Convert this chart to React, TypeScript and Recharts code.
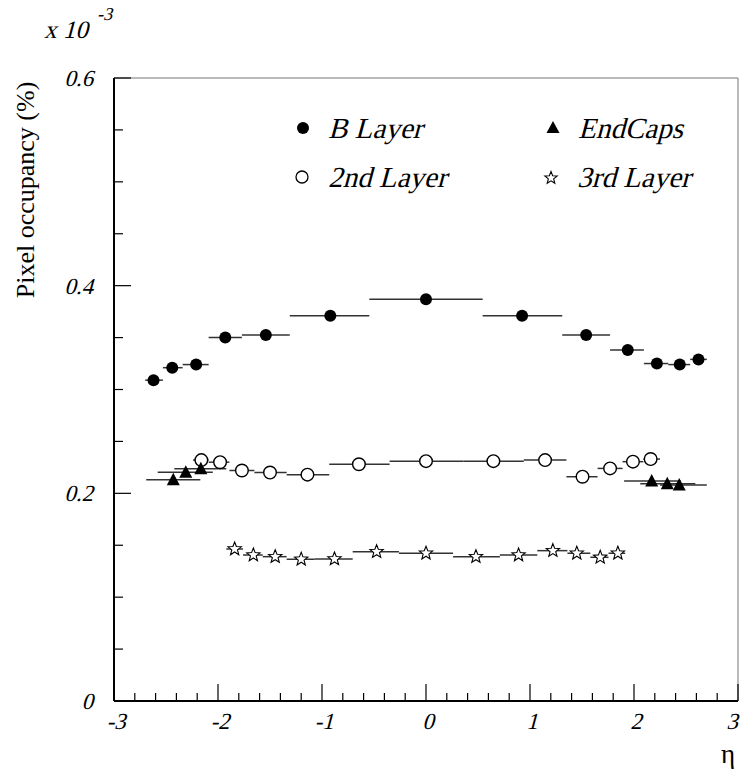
import React from "react";
import { ScatterChart, Scatter, XAxis, YAxis, ErrorBar, ReferenceLine } from "recharts";

// pseudorapidity bin centres, occupancy (x 10^-3 %) and bin edges
const bLayerEta = [-2.62, -2.44, -2.21, -1.93, -1.54, -0.92, 0, 0.924, 1.54, 1.94, 2.22, 2.44, 2.62];
const bLayerOcc = [0.309, 0.321, 0.324, 0.35, 0.3525, 0.371, 0.387, 0.371, 0.3525, 0.338, 0.325, 0.324, 0.329];
const bLayerLo = [-2.7, -2.53, -2.34, -2.09, -1.77, -1.31, -0.545, 0.545, 1.31, 1.77, 2.095, 2.33, 2.54];
const bLayerHi = [-2.53, -2.34, -2.09, -1.77, -1.31, -0.545, 0.545, 1.31, 1.77, 2.095, 2.33, 2.54, 2.7];

const layer2Eta = [-2.16, -1.98, -1.77, -1.5, -1.14, -0.645, 0, 0.648, 1.145, 1.505, 1.77, 1.99, 2.16];
const layer2Occ = [0.232, 0.23, 0.222, 0.22, 0.218, 0.228, 0.231, 0.231, 0.232, 0.216, 0.224, 0.2305, 0.233];
const layer2Lo = [-2.24, -2.09, -1.89, -1.65, -1.34, -0.93, -0.35, 0.36, 0.94, 1.35, 1.65, 1.89, 2.09];
const layer2Hi = [-2.09, -1.89, -1.65, -1.34, -0.93, -0.35, 0.36, 0.94, 1.35, 1.65, 1.89, 2.09, 2.25];

const endCapEta = [-2.43, -2.31, -2.165, 2.17, 2.32, 2.435];
const endCapOcc = [0.213, 0.2203, 0.2237, 0.2119, 0.2093, 0.208];
const endCapLo = [-2.69, -2.58, -2.42, 1.905, 2.06, 2.25];
const endCapHi = [-2.17, -2.05, -1.92, 2.45, 2.59, 2.7];

const layer3Eta = [-1.84, -1.66, -1.45, -1.2, -0.88, -0.475, 0, 0.48, 0.89, 1.22, 1.45, 1.675, 1.845];
const layer3Occ = [0.1464, 0.1406, 0.139, 0.1365, 0.1368, 0.1438, 0.1423, 0.139, 0.1406, 0.1448, 0.1423, 0.1384, 0.1423];
const layer3Lo = [-1.92, -1.76, -1.57, -1.34, -1.07, -0.705, -0.26, 0.26, 0.71, 1.07, 1.36, 1.58, 1.755];
const layer3Hi = [-1.76, -1.57, -1.34, -1.07, -0.705, -0.26, 0.26, 0.71, 1.07, 1.36, 1.58, 1.755, 1.915];

const xTicks = [
  -3, -2.8, -2.6, -2.4, -2.2, -2, -1.8, -1.6, -1.4, -1.2, -1, -0.8, -0.6, -0.4, -0.2, 0,
  0.2, 0.4, 0.6, 0.8, 1, 1.2, 1.4, 1.6, 1.8, 2, 2.2, 2.4, 2.6, 2.8, 3,
];
const yTicks = [0, 0.05, 0.1, 0.15, 0.2, 0.25, 0.3, 0.35, 0.4, 0.45, 0.5, 0.55, 0.6];

const FONT = "Liberation Serif";

const rows = (eta: number[], occ: number[], lo: number[], hi: number[]) =>
  eta.map((x, i) => ({ x, y: occ[i], err: [x - lo[i], hi[i] - x] }));

const near = (v: number, step: number) => Math.abs(v / step - Math.round(v / step)) < 1e-6;

// slanted serif text (the italic face isn't reliably installed)
const Ital = ({ x, y, size, anchor = "start", children }: any) => (
  <text
    transform={`translate(${x},${y}) skewX(-15)`}
    textAnchor={anchor}
    fontFamily={FONT}
    fontSize={size}
    fill="#000"
  >
    {children}
  </text>
);

const XTick = (props: any) => {
  const { x, y, payload } = props;
  const v = payload.value;
  const major = near(v, 1);
  // keep the last label inside the page
  const lx = Math.min(x + 2, 732);
  return (
    <g>
      <line x1={x} x2={x} y1={y} y2={y - (major ? 17 : 8)} stroke="#000" strokeWidth={1.2} />
      {major && (
        <Ital x={lx} y={y + 28} size={23} anchor="middle">
          {String(v)}
        </Ital>
      )}
    </g>
  );
};

const YTick = (props: any) => {
  const { x, y, payload } = props;
  const v = payload.value;
  const major = near(v, 0.2);
  return (
    <g>
      <line x1={x} x2={x + (major ? 17 : 9)} y1={y} y2={y} stroke="#000" strokeWidth={1.2} />
      {major && (
        <Ital x={x - 21} y={y + 8} size={23} anchor="end">
          {String(v)}
        </Ital>
      )}
    </g>
  );
};

const FilledDot = ({ cx, cy }: any) => <circle cx={cx} cy={cy} r={6} fill="#000" />;
const OpenDot = ({ cx, cy }: any) => <circle cx={cx} cy={cy} r={6.3} fill="#fff" stroke="#000" strokeWidth={1.4} />;
const Triangle = ({ cx, cy }: any) => (
  <path d={`M${cx},${cy - 7} L${cx + 6.5},${cy + 5.5} L${cx - 6.5},${cy + 5.5} Z`} fill="#000" />
);
const starPath = (cx: number, cy: number, ro: number, ri: number) => {
  const pts: string[] = [];
  for (let k = 0; k < 10; k++) {
    const r = k % 2 === 0 ? ro : ri;
    const a = -Math.PI / 2 + (k * Math.PI) / 5;
    pts.push(`${(cx + r * Math.cos(a)).toFixed(2)},${(cy + r * Math.sin(a)).toFixed(2)}`);
  }
  return "M" + pts.join(" L") + " Z";
};
const Star = ({ cx, cy }: any) => <path d={starPath(cx, cy, 7, 3)} fill="#fff" stroke="#000" strokeWidth={1.1} />;

const bar = { dataKey: "err", direction: "x" as const, width: 0, stroke: "#333", strokeWidth: 1.5, isAnimationActive: false };

export default function App() {
  return (
    <div style={{ position: "absolute", left: 0, top: 0, width: 745, height: 774, background: "#fff" }}>
      <ScatterChart width={745} height={774} margin={{ top: 78, right: 7, bottom: 72, left: 113 }}>
        <XAxis
          type="number"
          dataKey="x"
          domain={[-3, 3]}
          allowDataOverflow
          ticks={xTicks}
          interval={0}
          height={1}
          tickSize={0}
          tickMargin={0}
          tickLine={false}
          tick={<XTick />}
          axisLine={{ stroke: "#000", strokeWidth: 2 }}
        />
        <YAxis
          type="number"
          dataKey="y"
          domain={[0, 0.6]}
          allowDataOverflow
          ticks={yTicks}
          interval={0}
          width={1}
          tickSize={0}
          tickMargin={0}
          tickLine={false}
          tick={<YTick />}
          axisLine={{ stroke: "#000", strokeWidth: 2 }}
        />
        <ReferenceLine y={0.6} stroke="#777" strokeWidth={1} />
        <ReferenceLine x={3} stroke="#777" strokeWidth={1} />
        <Scatter data={rows(bLayerEta, bLayerOcc, bLayerLo, bLayerHi)} shape={<FilledDot />} isAnimationActive={false}>
          <ErrorBar {...bar} />
        </Scatter>
        <Scatter data={rows(layer2Eta, layer2Occ, layer2Lo, layer2Hi)} shape={<OpenDot />} isAnimationActive={false}>
          <ErrorBar {...bar} />
        </Scatter>
        <Scatter data={rows(endCapEta, endCapOcc, endCapLo, endCapHi)} shape={<Triangle />} isAnimationActive={false}>
          <ErrorBar {...bar} />
        </Scatter>
        <Scatter data={rows(layer3Eta, layer3Occ, layer3Lo, layer3Hi)} shape={<Star />} isAnimationActive={false}>
          <ErrorBar {...bar} />
        </Scatter>
      </ScatterChart>

      <svg width={745} height={774} style={{ position: "absolute", left: 0, top: 0, pointerEvents: "none" }}>
        {/* axis titles */}
        <Ital x={44} y={38} size={25}>x 10</Ital>
        <Ital x={97} y={20} size={18}>-3</Ital>
        <text
          transform="translate(34, 190) rotate(-90)"
          textAnchor="middle"
          fontFamily={FONT}
          fontSize={26}
        >
          Pixel occupancy (%)
        </text>
        <text x={728} y={763} textAnchor="middle" fontFamily={FONT} fontSize={27}>η</text>

        {/* legend */}
        <circle cx={303} cy={128} r={6} fill="#000" />
        <Ital x={328} y={138} size={29}>B Layer</Ital>
        <path d="M553,121 L559.5,133 L546.5,133 Z" fill="#000" />
        <Ital x={578} y={138} size={29}>EndCaps</Ital>
        <circle cx={302} cy={177} r={6} fill="#fff" stroke="#000" strokeWidth={1.3} />
        <Ital x={328} y={187} size={29}>2nd Layer</Ital>
        <path d={starPath(551, 178, 6.5, 2.8)} fill="#fff" stroke="#000" strokeWidth={1.1} />
        <Ital x={577} y={187} size={29}>3rd Layer</Ital>
      </svg>
    </div>
  );
}
